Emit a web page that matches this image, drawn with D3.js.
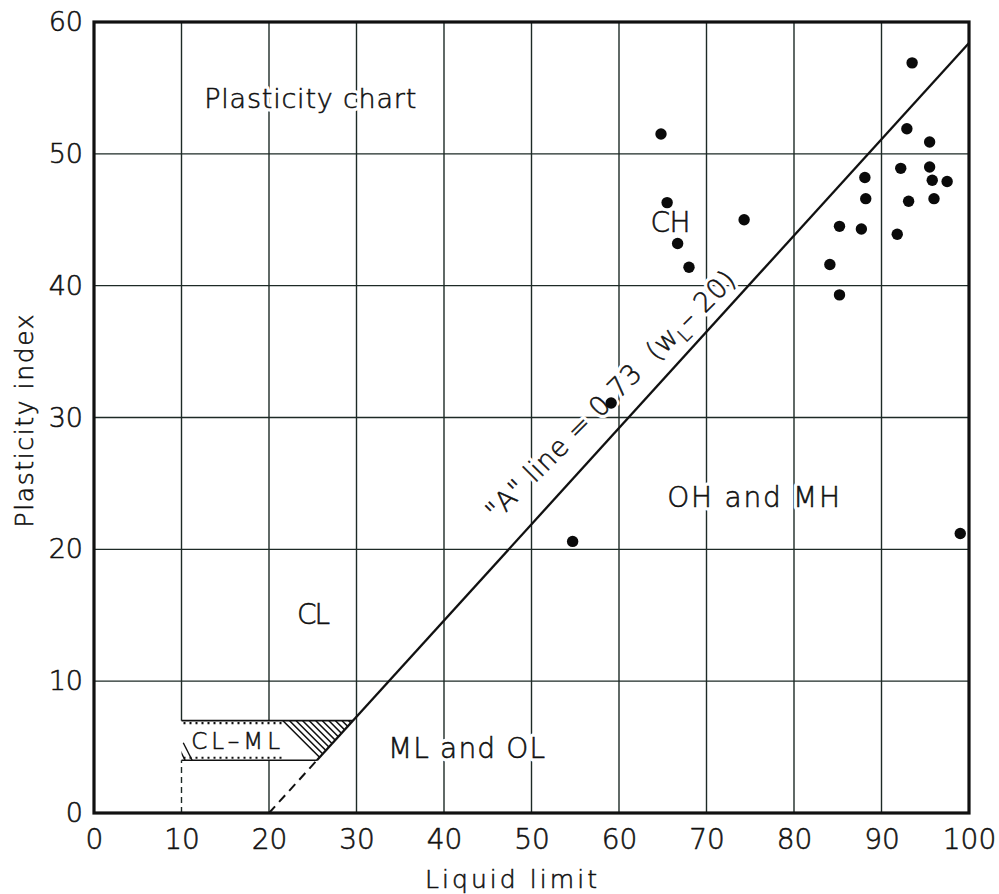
<!DOCTYPE html>
<html>
<head>
<meta charset="utf-8">
<script src="https://cdn.jsdelivr.net/npm/d3@7"></script>
<style>
  body { margin: 0; background: #fff; }
  svg { display: block; }
  text { font-family: "DejaVu Sans", "Lato", sans-serif; font-weight: 200; fill: #111; stroke: #111; stroke-width: 0.55px; }
  text.halo { fill: #fff; stroke: #fff; stroke-width: 7px; stroke-linejoin: round; }
</style>
</head>
<body>
<div id="chart"></div>
<script>
// liquid limit / plasticity index of the samples
var liquidLimit = [93.5, 64.8, 92.9, 95.5, 92.2, 95.5, 95.8, 97.5, 88.1, 88.2, 93.1, 96.0,
                   65.5, 74.3, 85.2, 87.7, 91.8, 66.7, 68.0, 84.1, 85.2, 59.1, 54.7, 99.0];
var plasticityIndex = [56.9, 51.5, 51.9, 50.9, 48.9, 49.0, 48.0, 47.9, 48.2, 46.6, 46.4, 46.6,
                       46.3, 45.0, 44.5, 44.3, 43.9, 43.2, 41.4, 41.6, 39.3, 31.1, 20.6, 21.2];

var xTicks = [0, 10, 20, 30, 40, 50, 60, 70, 80, 90, 100];
var yTicks = [0, 10, 20, 30, 40, 50, 60];
var xGrid = [20, 30, 40, 50, 60, 70, 80, 90];
var yGrid = [10, 20, 30, 40, 50];

// A line: PI = 0.73 (wL - 20)
var aSlope = 0.73, aStart = 20;
// CL-ML band
var bandLow = 4, bandHigh = 7, bandLeft = 10;

// zone labels [text, LL, PI, width in px]
var zoneLabels = [
  ["Plasticity chart", 12.6, 53.5, 212],
  ["CH", 63.6, 44.1, 40],
  ["CL", 23.2, 14.3, 33],
  ["ML and OL", 33.6, 4.2, 157],
  ["OH and MH", 65.5, 23.2, 173]
];

var width = 999, height = 894;
var margin = {top: 22, right: 30, bottom: 81, left: 94};

var svg = d3.select("#chart").append("svg")
    .attr("width", width)
    .attr("height", height);

var x = d3.scaleLinear().domain([0, 100]).range([margin.left, width - margin.right]);
var y = d3.scaleLinear().domain([0, 60]).range([height - margin.bottom, margin.top]);

function aLine(ll) { return aSlope * (ll - aStart); }
function aInv(pi) { return pi / aSlope + aStart; }

var gridColor = "#1d2a26";

//Grid
svg.append("g").selectAll("line.v")
    .data(xGrid)
    .enter().append("line")
    .attr("x1", d => x(d)).attr("x2", d => x(d))
    .attr("y1", y(0)).attr("y2", y(60))
    .attr("stroke", gridColor).attr("stroke-width", 1.4);

svg.append("g").selectAll("line.h")
    .data(yGrid)
    .enter().append("line")
    .attr("x1", x(0)).attr("x2", x(100))
    .attr("y1", d => y(d)).attr("y2", d => y(d))
    .attr("stroke", gridColor).attr("stroke-width", 1.4);

// wL = 10 line: solid above band, dashed below
svg.append("line")
    .attr("x1", x(bandLeft)).attr("x2", x(bandLeft))
    .attr("y1", y(bandHigh)).attr("y2", y(60))
    .attr("stroke", gridColor).attr("stroke-width", 1.4);
svg.append("line")
    .attr("x1", x(bandLeft)).attr("x2", x(bandLeft))
    .attr("y1", y(0)).attr("y2", y(bandLow))
    .attr("stroke", gridColor).attr("stroke-width", 1.4)
    .attr("stroke-dasharray", "6,4");

//CL-ML band
var band = [[bandLeft, bandLow], [bandLeft, bandHigh], [aInv(bandHigh), bandHigh], [aInv(bandLow), bandLow]];
var bandPts = band.map(p => [x(p[0]), y(p[1])]);

svg.append("clipPath").attr("id", "bandClip")
    .append("polygon").attr("points", bandPts.join(" "));

svg.append("polygon")
    .attr("points", bandPts.join(" "))
    .attr("fill", "#fff");

// hatching on the right end of the band
var hatch = d3.range(21.6, 31, 0.75);
svg.append("g").attr("clip-path", "url(#bandClip)")
    .selectAll("line")
    .data(hatch)
    .enter().append("line")
    .attr("x1", d => x(d)).attr("y1", y(bandHigh))
    .attr("x2", d => x(d) + (y(bandLow) - y(bandHigh))).attr("y2", y(bandLow))
    .attr("stroke", "#111").attr("stroke-width", 1.6);

// a bit of hatching in the lower-left corner
svg.append("g").attr("clip-path", "url(#bandClip)")
    .selectAll("line")
    .data([9.4, 10.2])
    .enter().append("line")
    .attr("x1", d => x(d)).attr("y1", y(bandHigh) + 22)
    .attr("x2", d => x(d) + 20).attr("y2", y(bandLow) + 22)
    .attr("stroke", "#111").attr("stroke-width", 1.4);

// band edges with scalloped inner ticks
[bandLow, bandHigh].forEach(function(pi) {
    var off = pi == bandHigh ? 2.5 : -2.5;
    svg.append("line")
        .attr("x1", x(bandLeft)).attr("x2", x(aInv(pi)))
        .attr("y1", y(pi)).attr("y2", y(pi))
        .attr("stroke", "#111").attr("stroke-width", 1.7);
    svg.append("line")
        .attr("x1", x(bandLeft) + 2).attr("x2", x(21.8))
        .attr("y1", y(pi) + off).attr("y2", y(pi) + off)
        .attr("stroke", "#111").attr("stroke-width", 2.2)
        .attr("stroke-dasharray", "2,4");
});

svg.append("text")
    .attr("x", x(11.1)).attr("y", y(5.5))
    .attr("dy", "0.36em")
    .attr("font-size", 23)
    .attr("textLength", 89)
    .text("CL\u2013ML");

//A line
svg.append("line")
    .attr("x1", x(aStart)).attr("y1", y(0))
    .attr("x2", x(aInv(bandLow))).attr("y2", y(bandLow))
    .attr("stroke", "#111").attr("stroke-width", 2)
    .attr("stroke-dasharray", "9,6");
svg.append("line")
    .attr("x1", x(aInv(bandLow))).attr("y1", y(bandLow))
    .attr("x2", x(100)).attr("y2", y(aLine(100)))
    .attr("stroke", "#111").attr("stroke-width", 2.3);

//Frame
svg.append("rect")
    .attr("x", x(0)).attr("y", y(60))
    .attr("width", x(100) - x(0)).attr("height", y(0) - y(60))
    .attr("fill", "none").attr("stroke", "#111").attr("stroke-width", 3.2);

//Axes
var xAxis = svg.append("g")
    .attr("transform", "translate(0," + y(0) + ")")
    .call(d3.axisBottom(x).tickValues(xTicks).tickSize(0).tickPadding(16).tickFormat(d3.format("d")));
xAxis.select(".domain").remove();
xAxis.selectAll("text")
    .style("font-family", "\"DejaVu Sans\", Lato, sans-serif")
    .style("font-weight", 200)
    .attr("font-size", 28)
    .attr("fill", "#111");

var yAxis = svg.append("g")
    .attr("transform", "translate(" + x(0) + ",0)")
    .call(d3.axisLeft(y).tickValues(yTicks).tickSize(0).tickPadding(11).tickFormat(d3.format("d")));
yAxis.select(".domain").remove();
yAxis.selectAll("text")
    .style("font-family", "\"DejaVu Sans\", Lato, sans-serif")
    .style("font-weight", 200)
    .attr("font-size", 27)
    .attr("fill", "#111");

svg.append("text")
    .attr("x", 511).attr("y", 888)
    .attr("text-anchor", "middle")
    .attr("font-size", 25)
    .attr("textLength", 172)
    .text("Liquid limit");

svg.append("text")
    .attr("transform", "translate(33,421) rotate(-90)")
    .attr("text-anchor", "middle")
    .attr("font-size", 25)
    .attr("textLength", 213)
    .text("Plasticity index");

//Zone labels: white halo copy underneath, then the text
["halo", "ink"].forEach(function(cls) {
    svg.append("g").selectAll("text")
        .data(zoneLabels)
        .enter().append("text")
        .attr("class", cls)
        .attr("x", d => x(d[1])).attr("y", d => y(d[2]))
        .attr("font-size", d => d[0] == "Plasticity chart" ? 27 : 28)
        .attr("textLength", d => d[3])
        .text(d => d[0]);
});

//A line label
var angle = -45;
["halo", "ink"].forEach(function(cls) {
    var lab = svg.append("text")
        .attr("class", cls)
        .attr("transform", "translate(" + x(59.0) + "," + y(31.7) + ") rotate(" + angle + ")")
        .attr("text-anchor", "middle")
        .attr("dy", "0.35em")
        .attr("font-size", 27)
        .attr("textLength", 340)
        .style("white-space", "pre");
    lab.append("tspan").text("\"A\" line = 0.73  (w");
    lab.append("tspan").attr("dy", 7).attr("font-size", 19).text("L");
    lab.append("tspan").attr("dy", -7).text("\u2013 20)");
});

//Points
svg.append("g").selectAll("circle")
    .data(liquidLimit.map((d, i) => [d, plasticityIndex[i]]))
    .enter().append("circle")
    .attr("cx", d => x(d[0]))
    .attr("cy", d => y(d[1]))
    .attr("r", 5.7)
    .attr("fill", "#0a0a0a");
</script>
</body>
</html>
